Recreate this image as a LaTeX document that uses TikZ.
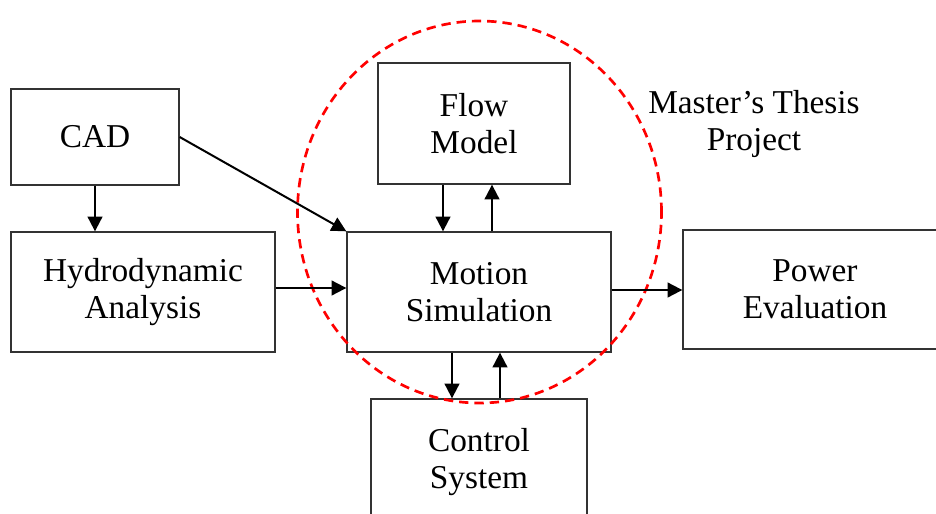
\documentclass[tikz,border=0pt]{standalone}
\usepackage{fontspec}
\setmainfont{Liberation Serif}
\usetikzlibrary{arrows.meta}

\begin{document}
\begin{tikzpicture}[x=0.75pt, y=-0.75pt,
  block/.style={draw=black!80, line width=1pt, align=center, inner sep=0pt,
    font=\fontsize{25}{27.5}\selectfont},
  arr/.style={-{Triangle[length=11pt,width=11pt]}, line width=1.5pt},
  thesis/.style={red, line width=2pt, dash pattern=on 7pt off 4.5pt}]
  \useasboundingbox (0,0) rectangle (936,514);
  \clip (0,0) rectangle (936,514);
  % blocks
  \node[block, minimum width=126pt, minimum height=72pt] (cad) at (95,137) {CAD};
  \node[block, minimum width=198pt, minimum height=90pt] (hydro) at (143,292) {Hydrodynamic\\Analysis};
  \node[block, minimum width=198pt, minimum height=90pt] (motion) at (479,292) {Motion\\Simulation};
  \node[block, minimum width=144pt, minimum height=90.75pt] (flow) at (474,123.5) {Flow\\Model};
  \node[block, minimum width=198pt, minimum height=89.25pt] (power) at (815,289.5) {Power\\Evaluation};
  \node[block, minimum width=162pt, minimum height=94.5pt] (control) at (479,462) {Control\\System};
  % thesis scope
  \draw[thesis] (479.5,212) ellipse [x radius=136.5pt, y radius=143.25pt];
  \node[font=\fontsize{25}{27.5}\selectfont, align=center] (scope) at (754,124) {Master’s Thesis\\Project};
  % arrow positions
  \coordinate (fdown) at (443,0);
  \coordinate (fup) at (492,0);
  \coordinate (cdown) at (452,0);
  \coordinate (cup) at (500,0);
  \coordinate (hrow) at (0,288);
  \coordinate (prow) at (0,290);
  % connectors
  \draw[arr] (cad.south) -- (cad.south |- hydro.north);
  \draw[arr] (cad.east) -- (motion.north west);
  \draw[arr] (hydro.east |- hrow) -- (motion.west |- hrow);
  \draw[arr] (motion.east |- prow) -- (power.west |- prow);
  \draw[arr] (flow.south -| fdown) -- (motion.north -| fdown);
  \draw[arr] (motion.north -| fup) -- (flow.south -| fup);
  \draw[arr] (motion.south -| cdown) -- (control.north -| cdown);
  \draw[arr] (control.north -| cup) -- (motion.south -| cup);
\end{tikzpicture}
\end{document}
